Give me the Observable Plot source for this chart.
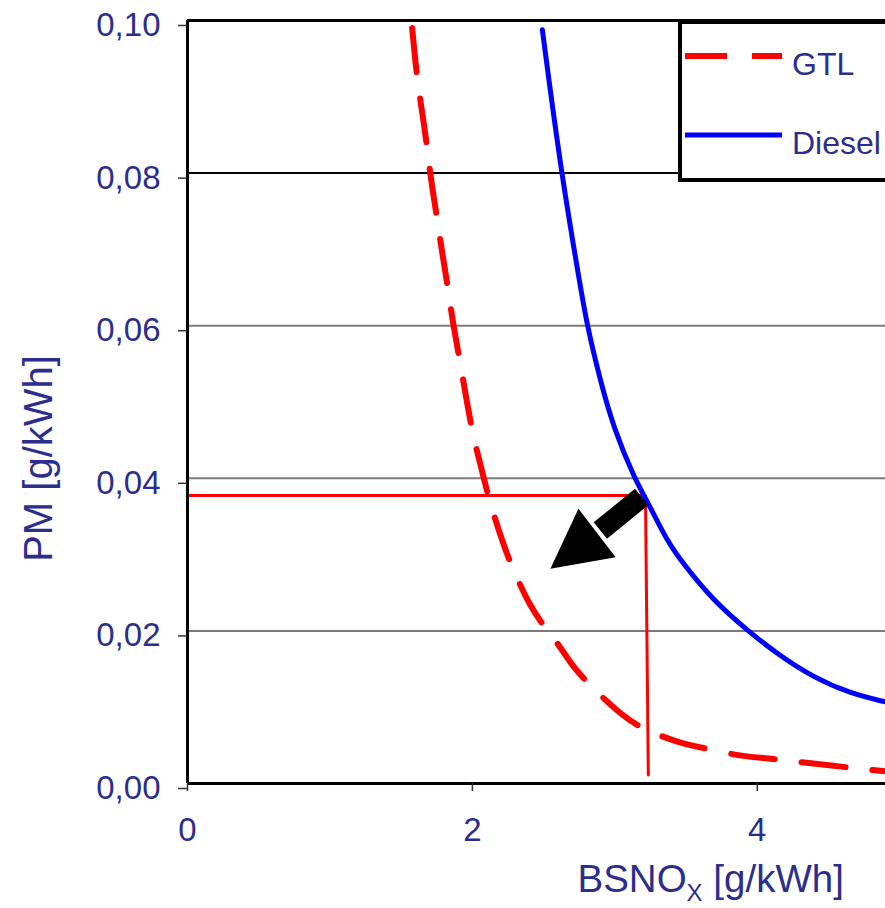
<!DOCTYPE html>
<html><head><meta charset="utf-8">
<script src="https://cdn.jsdelivr.net/npm/d3@7"></script>
<script src="https://cdn.jsdelivr.net/npm/@observablehq/plot@0.6"></script>
<style>
html,body{margin:0;padding:0;background:#fff;overflow:hidden;}
#wrap{position:relative;width:885px;height:908px;overflow:hidden;}
#legend{position:absolute;left:678px;top:20px;}
</style></head><body><div id="wrap"></div>
<script>
// ---- data ----
const series = ["GTL", "Diesel"];
const seriesColors = ["#ff0000", "#0000ff"];
const gtlX = [1.577,1.607,1.635,1.682,1.705,1.754,1.782,1.832,1.858,1.916,1.951,2.007,2.056,2.112,2.208,2.279,2.407,2.512,2.618,2.709,2.840,3.050,3.191,3.436,3.635,3.902,4.091,4.393,4.691,4.898];
const gtlY = [0.0990,0.0932,0.0895,0.0836,0.0796,0.0739,0.0702,0.0646,0.0609,0.0550,0.0511,0.0453,0.0419,0.0375,0.0318,0.0283,0.0231,0.0204,0.0179,0.0152,0.0126,0.0089,0.0072,0.0054,0.0046,0.0035,0.0033,0.0026,0.0020,0.0016];
const dieselX = [2.491,2.618,2.751,2.805,2.898,2.989,3.144,3.226,3.366,3.480,3.690,3.928,4.138,4.393,4.653,4.898];
const dieselY = [0.0988,0.0807,0.0659,0.0600,0.0528,0.0467,0.0397,0.0371,0.0318,0.0288,0.0240,0.0201,0.0170,0.0139,0.0118,0.0107];
// reference operating point guide (red solid lines)
const guideX = [0, 3.215, 3.235];
const guideY = [0.03775, 0.03775, 0.0011];
// arrow (shaft from tail to head base, head centroid)
const arrowShaftX = [3.188, 2.898];
const arrowShaftY = [0.03755, 0.03316];
const arrowHeadX = [2.766];
const arrowHeadY = [0.03127];
const arrowAngle = [232.5];
// axes
const xTicks = [0, 2, 4];
const yTicks = [0, 0.02, 0.04, 0.06, 0.08, 0.10];
const grayGrid = [0.02, 0.04, 0.06];
const darkGrid = [0.08];
const xLabelParts = ["BSNO", "X", " [g/kWh]"];
const yLabel = "PM [g/kWh]";

const navy = "#2b2e8c";
const gtl = gtlX.map((x, i) => ({x, y: gtlY[i]}));
const diesel = dieselX.map((x, i) => ({x, y: dieselY[i]}));
const guide = guideX.map((x, i) => ({x, y: guideY[i]}));

const arrowSymbol = {
  draw(ctx, size) {
    const L = 2 * Math.sqrt(size / Math.PI);
    ctx.moveTo(0, -2 * L / 3);
    ctx.lineTo(0.52 * L, L / 3);
    ctx.lineTo(-0.52 * L, L / 3);
    ctx.closePath();
  }
};

const chart = Plot.plot({
  width: 885,
  height: 908,
  marginLeft: 187,
  marginRight: 0,
  marginTop: 20,
  marginBottom: 125,
  style: {fontFamily: "'Liberation Sans', Arial, sans-serif", fontSize: "33px", background: "#fff"},
  x: {domain: [0, 4.9], label: null},
  y: {domain: [0, 0.1], label: null},
  marks: [
    Plot.ruleY(grayGrid, {stroke: "#7a7a7a", strokeWidth: 2}),
    Plot.ruleY(darkGrid, {stroke: "#000", strokeWidth: 2}),
    Plot.line(guide, {x: "x", y: "y", stroke: seriesColors[0], strokeWidth: 3, strokeLinejoin: "miter"}),
    Plot.line(gtl, {x: "x", y: "y", stroke: seriesColors[0], strokeWidth: 6, strokeDasharray: "44,27", curve: "basis"}),
    Plot.line(diesel, {x: "x", y: "y", stroke: seriesColors[1], strokeWidth: 5, curve: "basis"}),
    Plot.link([0], {x1: () => arrowShaftX[0], y1: () => arrowShaftY[0], x2: () => arrowShaftX[1], y2: () => arrowShaftY[1], stroke: "#000", strokeWidth: 21, strokeLinecap: "butt"}),
    Plot.dot([0], {x: () => arrowHeadX[0], y: () => arrowHeadY[0], r: 29.4, rotate: arrowAngle[0], symbol: arrowSymbol, fill: "#000", stroke: "none"}),
    Plot.ruleY([0, 0.1], {stroke: "#000", strokeWidth: 3}),
    Plot.ruleX([0], {stroke: "#000", strokeWidth: 3}),
    Plot.axisY(yTicks, {tickSize: 9, tickPadding: 18, tickFormat: d => d.toFixed(2).replace(".", ","), fill: navy, stroke: "#333", strokeWidth: 1.5, fontSize: 33, dy: 5, label: null}),
    Plot.axisX(xTicks, {tickSize: 8, tickPadding: 26, tickFormat: d => String(d), fill: navy, stroke: "#333", strokeWidth: 1.5, fontSize: 33, label: null}),
    Plot.text([yLabel], {frameAnchor: "left", textAnchor: "middle", rotate: -90, dx: -148.5, dy: 56.5, fill: navy, fontSize: 40}),
    Plot.text([xLabelParts.join("")], {frameAnchor: "bottom-left", textAnchor: "start", lineAnchor: "bottom", dx: 390, dy: 108, fill: navy, fontSize: 38.5})
  ]
});
document.getElementById("wrap").appendChild(chart);

// subscript in x label
const fullX = xLabelParts.join("");
d3.select(chart).selectAll("text").filter(function() { return this.textContent === fullX; }).each(function() {
  const t = d3.select(this);
  t.text(null);
  t.append("tspan").text(xLabelParts[0]);
  t.append("tspan").attr("font-size", 24).attr("dy", 9).text(xLabelParts[1]);
  t.append("tspan").attr("dy", -9).text(xLabelParts[2]);
});

// legend
const lg = d3.select("#wrap").append("svg").attr("id", "legend")
  .attr("width", 300).attr("height", 164)
  .style("font-family", "'Liberation Sans', Arial, sans-serif");
lg.append("rect").attr("x", 2).attr("y", 2).attr("width", 296).attr("height", 158)
  .attr("fill", "#fff").attr("stroke", "#000").attr("stroke-width", 4);
const rowY = [36, 115];
series.forEach((s, i) => {
  lg.append("line").attr("x1", 7).attr("x2", 104).attr("y1", rowY[i]).attr("y2", rowY[i])
    .attr("stroke", seriesColors[i]).attr("stroke-width", i === 0 ? 6 : 5)
    .attr("stroke-dasharray", i === 0 ? "42,25" : null);
  lg.append("text").attr("x", 114).attr("y", rowY[i] + 19).attr("fill", navy)
    .attr("font-size", 32).text(s);
});
</script></body></html>
